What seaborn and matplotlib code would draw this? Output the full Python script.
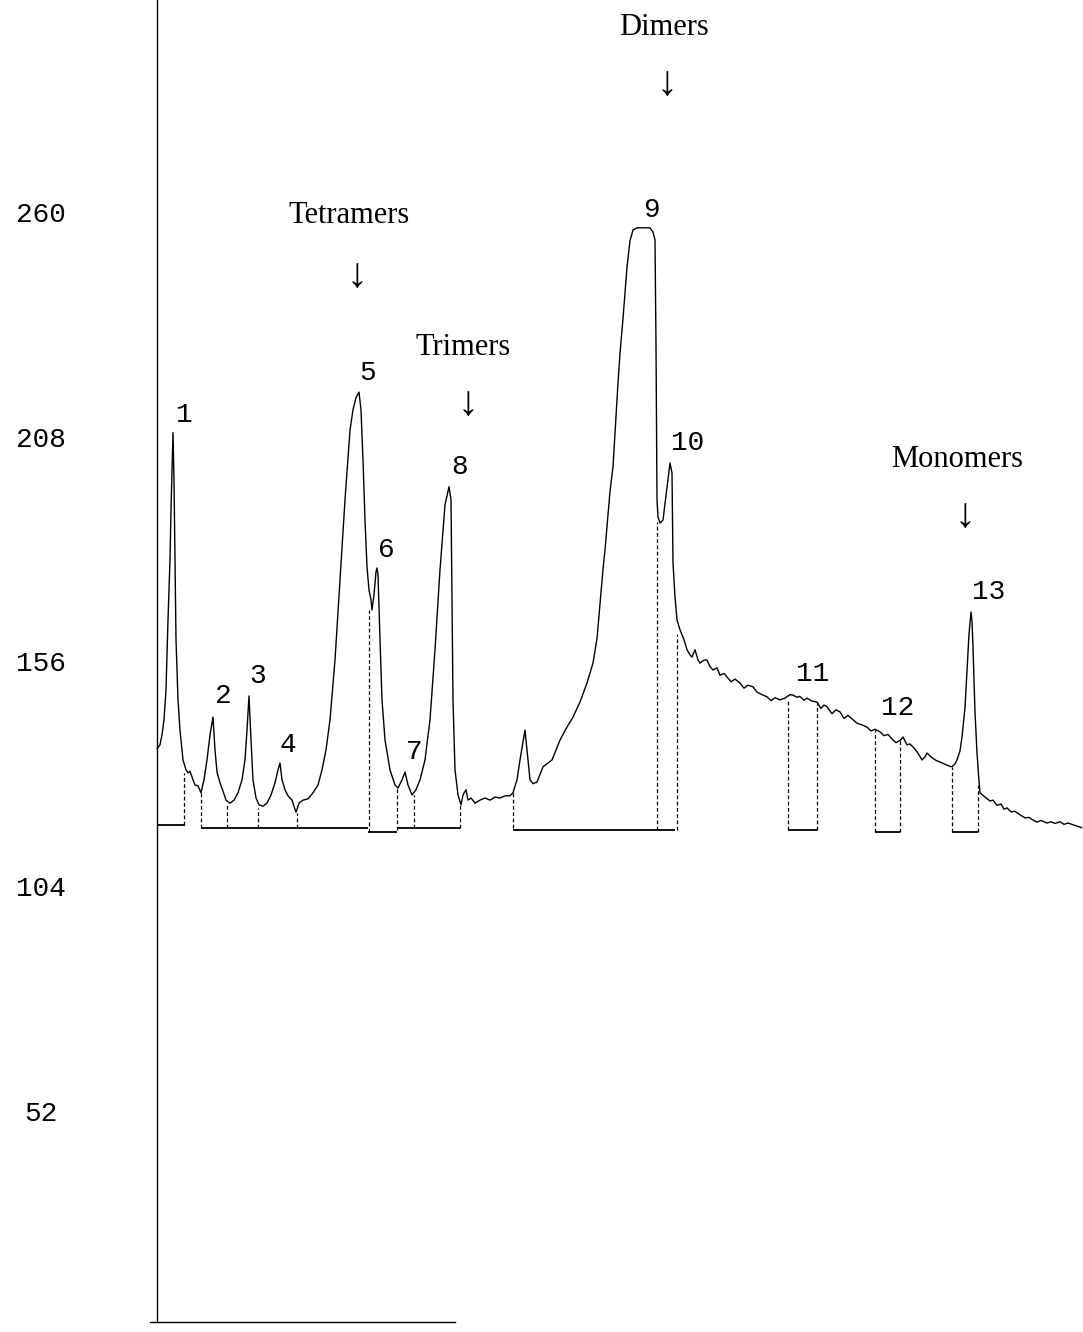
import matplotlib
matplotlib.use("Agg")
import matplotlib.pyplot as plt
import seaborn as sns
import pandas as pd

# chromatogram trace (x = retention position, y = detector response)
trace_x = [157, 160, 162, 164, 166, 168, 170, 171, 172, 173, 174, 175, 176, 178, 180, 183, 186, 188, 190, 193,
           195, 198, 201, 204, 207, 210, 213, 215, 217, 220, 223, 226, 230, 234, 238, 242, 245, 247, 249, 251,
           253, 256, 259, 263, 267, 271, 275, 278, 280, 282, 285, 288, 292, 296, 299, 303, 308, 313, 318, 322,
           326, 330, 335, 340, 345, 350, 353, 356, 359, 361, 363, 365, 367, 369, 371, 372, 374, 376, 377, 378,
           380, 382, 385, 390, 395, 398, 402, 405, 408, 412, 416, 420, 425, 430, 435, 440, 445, 449, 451, 452,
           453, 455, 458, 461, 463, 466, 468, 471, 475, 480, 485, 490, 495, 500, 505, 510, 513, 517, 520, 525,
           528, 530, 533, 537, 543, 552, 560, 567, 573, 580, 587, 593, 597, 603, 605, 610, 613, 618, 620, 623,
           627, 630, 633, 637, 645, 650, 653, 655, 656, 657, 658, 660, 663, 666, 670, 672, 673, 675, 677, 680,
           684, 687, 690, 692, 695, 698, 700, 704, 707, 710, 713, 717, 720, 724, 727, 731, 735, 740, 744, 748,
           753, 757, 762, 767, 771, 775, 780, 785, 790, 793, 797, 800, 804, 807, 812, 817, 821, 824, 827, 832,
           836, 840, 844, 848, 853, 857, 862, 867, 871, 875, 880, 884, 888, 893, 896, 900, 903, 907, 910, 913,
           917, 922, 925, 927, 932, 936, 940, 945, 949, 952, 955, 957, 960, 962, 965, 967, 969, 971, 972, 973,
           975, 977, 979, 980, 985, 990, 993, 997, 1001, 1004, 1007, 1011, 1015, 1020, 1025, 1029, 1033, 1037,
           1041, 1047, 1051, 1055, 1060, 1064, 1068, 1073, 1077, 1082]
trace_y = [136.5, 137.4, 139.7, 143.2, 150.1, 166.3, 180.2, 191.7, 201.0, 209.6, 198.7, 180.2, 161.7, 147.8, 140.8, 133.9, 131.6, 130.9, 131.3, 129.3,
           128.1, 127.9, 126.3, 129.3, 133.9, 139.7, 143.8, 136.2, 131.1, 128.6, 126.7, 124.6, 123.9, 124.6, 126.3, 129.3, 133.9, 140.8, 148.7, 138.5,
           129.3, 125.1, 123.5, 123.2, 123.9, 125.8, 128.6, 131.6, 133.2, 129.3, 127.0, 125.6, 124.6, 121.8, 123.9, 124.6, 124.9, 126.3, 128.1, 131.6,
           136.2, 143.2, 157.0, 175.5, 194.1, 210.2, 214.9, 217.7, 219.0, 214.9, 203.3, 189.4, 178.6, 173.2, 170.9, 168.6, 172.1, 177.4, 178.3, 176.7,
           161.7, 147.8, 138.5, 131.6, 128.1, 127.4, 129.3, 131.1, 128.1, 125.8, 127.0, 129.3, 133.9, 143.2, 159.4, 177.9, 192.9, 197.1, 194.1, 170.9,
           147.8, 131.6, 125.8, 123.5, 125.8, 127.0, 124.6, 125.1, 123.9, 124.6, 125.1, 124.6, 125.3, 125.1, 125.6, 125.6, 126.3, 129.3, 133.9, 140.8,
           134.0, 129.3, 128.4, 128.8, 132.3, 133.9, 138.5, 141.5, 143.8, 147.3, 151.7, 156.3, 162.0, 178.0, 182.5, 196.0, 201.7, 221.1, 228.0, 236.0,
           247.9, 254.0, 256.5, 257.0, 257.0, 257.0, 256.0, 254.2, 230.0, 194.1, 190.1, 188.7, 189.4, 195.0, 202.6, 200.3, 179.5, 171.6, 166.3, 164.0,
           161.7, 159.4, 158.2, 157.7, 159.4, 157.0, 156.3, 157.0, 157.0, 155.5, 154.7, 155.2, 153.5, 153.9, 153.1, 152.0, 152.6, 151.7, 150.5, 151.2,
           150.8, 149.6, 149.0, 148.5, 147.6, 148.3, 147.8, 148.2, 149.0, 148.9, 148.4, 148.6, 147.7, 148.2, 147.5, 147.3, 145.8, 146.6, 146.2, 144.6,
           145.5, 145.0, 143.5, 144.2, 143.2, 142.4, 142.0, 141.5, 140.6, 141.0, 140.4, 139.5, 139.8, 138.5, 137.9, 138.4, 139.2, 137.4, 137.6, 136.9,
           135.8, 133.9, 134.6, 135.5, 134.4, 133.8, 133.4, 132.9, 132.5, 132.3, 133.0, 133.9, 136.0, 139.2, 146.0, 154.7, 163.0, 168.1, 166.0, 160.0,
           145.0, 135.5, 129.0, 126.3, 125.3, 124.4, 124.6, 123.4, 123.7, 122.5, 122.8, 121.9, 122.0, 121.2, 120.5, 120.6, 120.0, 119.5,
           119.9, 119.3, 119.6, 119.2, 119.6, 119.0, 119.3, 118.9, 118.6, 118.2]

# integration drop lines: position, foot, head
drop_x = [184, 201, 227, 258, 297, 369, 397, 414, 460, 513, 657, 677, 788, 817, 875, 900, 952, 978]
drop_lo = [118.9, 118.2, 118.2, 118.2, 118.2, 117.2, 117.7, 118.2, 118.2, 118.2, 117.7, 117.7, 117.7, 117.7, 117.2, 117.2, 117.2, 117.2]
drop_hi = [130.9, 126.3, 124.0, 122.8, 121.6, 168.6, 127.4, 125.8, 123.5, 126.3, 189.0, 163.0, 147.8, 147.3, 140.8, 138.4, 132.3, 128.0]

# integration baselines: start, end, level
base_x0 = [157, 201, 368, 397, 513, 788, 875, 952]
base_x1 = [185, 368, 397, 460, 675, 817, 900, 978]
base_y = [118.9, 118.2, 117.2, 118.2, 117.7, 117.7, 117.2, 117.2]

# peak numbers and where they sit
peak_ids = ["1", "2", "3", "4", "5", "6", "7", "8", "9", "10", "11", "12", "13"]
peak_lx = [184, 223, 258, 288, 368, 386, 414, 460, 651, 688, 813, 898, 989]
peak_ly = [212.1, 147.1, 151.7, 135.7, 221.8, 180.9, 134.1, 200.1, 259.5, 205.6, 152.2, 144.3, 171.2]

# oligomer group labels
groups = ["Tetramers", "Trimers", "Dimers", "Monomers"]
group_x = [349, 463, 664, 957]
group_y = [258.1, 227.6, 301.6, 201.7]
arrow_x = [357, 468, 667, 965]
arrow_y = [243.3, 213.7, 287.7, 187.8]

yticks = [52, 104, 156, 208, 260]

sns.set_style("white")
plt.rcParams["font.family"] = ["Liberation Mono", "DejaVu Sans Mono"]

fig = plt.figure(figsize=(10.83, 13.32), dpi=100)
ax = fig.add_axes([150 / 1083, 0, 933 / 1083, 1])

df = pd.DataFrame({"x": trace_x, "y": trace_y})
sns.lineplot(data=df, x="x", y="y", ax=ax, color="black", linewidth=1.0, sort=False, estimator=None)

ax.vlines(drop_x, drop_lo, drop_hi, colors="black", linestyles=(0, (3, 2)), linewidth=0.9)
ax.hlines(base_y, base_x0, base_x1, colors="black", linewidth=1.3)

for t, x, y in zip(peak_ids, peak_lx, peak_ly):
    ax.text(x, y, t, ha="center", va="baseline", fontsize=20, color="black")

serif = ["Liberation Serif", "DejaVu Serif"]
for t, x, y in zip(groups, group_x, group_y):
    ax.text(x, y, t, ha="center", va="baseline", fontsize=22, family=serif, color="black")
for x, y in zip(arrow_x, arrow_y):
    ax.text(x, y, "\u2193", ha="center", va="baseline", fontsize=30, family=serif, color="black")

ax.set_xlim(150, 1083)
ax.set_ylim(1.56, 309.7)
ax.set_xlabel("")
ax.set_ylabel("")
ax.set_xticks([])
ax.set_yticks([])

# y labels sit well left of the axis line, centred around x ~ 41 px
ylab_tr = ax.get_yaxis_transform()
for v in yticks:
    ax.text((41 - 150) / 933, v, str(v), transform=ylab_tr, ha="center", va="center",
            fontsize=20, color="black", clip_on=False)

for side in ["top", "right"]:
    ax.spines[side].set_visible(False)
ax.spines["left"].set_position(("data", 157))
ax.spines["left"].set_bounds(3.9, 309.7)
ax.spines["bottom"].set_position(("data", 3.9))
ax.spines["bottom"].set_bounds(150, 455)
for side in ["left", "bottom"]:
    ax.spines[side].set_color("black")
    ax.spines[side].set_linewidth(1.0)

fig.savefig("out.png", dpi=100, facecolor="white")
